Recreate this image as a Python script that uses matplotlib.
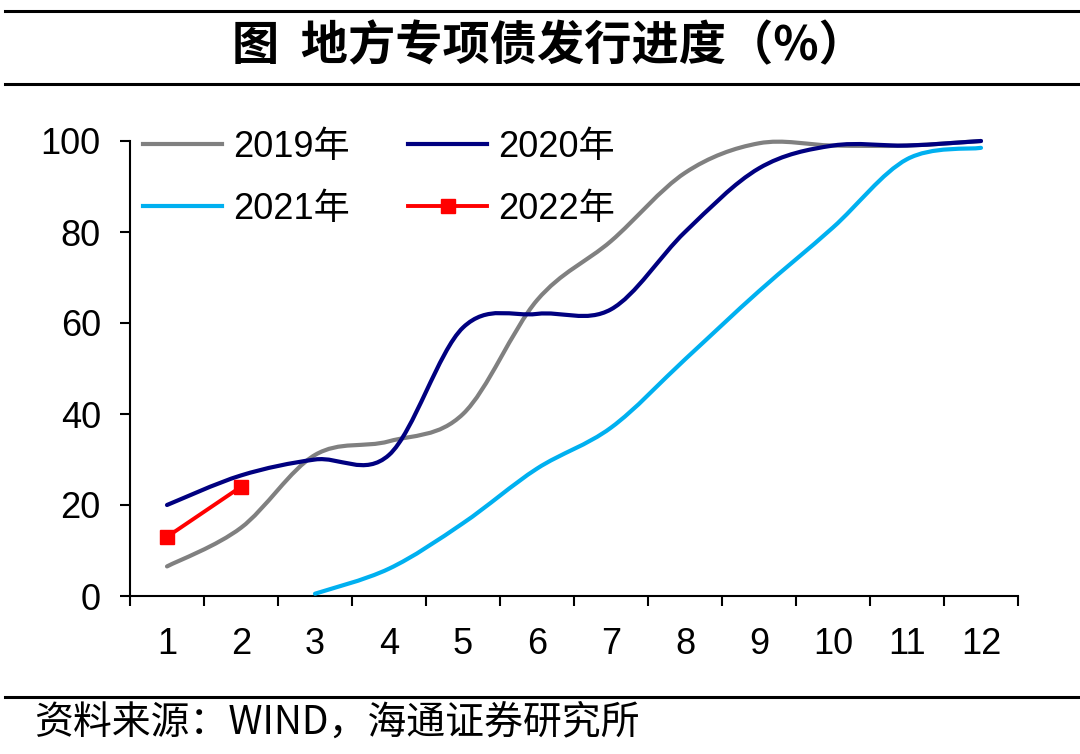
import matplotlib.pyplot as plt
import numpy as np
from matplotlib.path import Path
from matplotlib.patches import PathPatch
from matplotlib.lines import Line2D

plt.rcParams['font.family'] = ['Liberation Sans', 'Noto Sans CJK SC', 'DejaVu Sans']

# Data (cumulative issuance progress, %)
months = list(range(1, 13))
y2019 = [6.5, 15, 31, 34, 40, 65, 78, 93, 99.5, 99, 99, 100]
y2020 = [20, 26.5, 30, 31, 59, 62, 63, 80, 94, 99, 99, 100]
months_2021 = list(range(3, 13))
y2021 = [0.5, 6, 16, 28, 37, 52, 67, 81, 96, 98.5]
months_2022 = [1, 2]
y2022 = [13, 24]

series = [
    ('2019年', months, y2019, '#808080'),
    ('2020年', months, y2020, '#000080'),
    ('2021年', months_2021, y2021, '#00B0F0'),
]


def smooth_path(xs, ys):
    # Excel-style smoothed line: cubic Bezier through the data points
    pts = np.column_stack([xs, ys]).astype(float)
    verts = [pts[0]]
    codes = [Path.MOVETO]
    n = len(pts)
    for i in range(n - 1):
        p0 = pts[i - 1] if i > 0 else pts[i]
        p1 = pts[i]
        p2 = pts[i + 1]
        p3 = pts[i + 2] if i + 2 < n else pts[i + 1]
        c1 = p1 + (p2 - p0) / 6
        c2 = p2 - (p3 - p1) / 6
        verts += [c1, c2, p2]
        codes += [Path.CURVE4] * 3
    return Path(verts, codes)


fig = plt.figure(figsize=(10.8, 7.54), dpi=100)
ax = fig.add_axes([130 / 1080, 158 / 754, 888 / 1080, 455 / 754])

handles = []
for name, xs, ys, color in series:
    patch = PathPatch(smooth_path(xs, ys), facecolor='none', edgecolor=color,
                      lw=3, clip_on=False, capstyle='round', zorder=3)
    ax.add_patch(patch)
    handles.append(Line2D([], [], color=color, lw=3, label=name))

l22, = ax.plot(months_2022, y2022, color='#FF0000', lw=2.8, marker='s',
               markersize=10, clip_on=False, zorder=4, label='2022年')
handles.append(l22)

ax.set_xlim(0.5, 12.5)
ax.set_ylim(0, 100)
ax.set_yticks(range(0, 101, 20))
ax.set_xticks(months)
ax.set_xticks(np.arange(0.5, 13, 1), minor=True)
ax.tick_params(axis='x', which='major', length=0, pad=22, labelsize=26)
ax.tick_params(axis='x', which='minor', length=7, width=1.5, direction='out')
ax.tick_params(axis='y', length=7, width=1.5, direction='out', pad=14, labelsize=26)
for s in ['top', 'right']:
    ax.spines[s].set_visible(False)
for s in ['left', 'bottom']:
    ax.spines[s].set_linewidth(1.5)

# legend order: 2019, 2020 on first row; 2021, 2022 on second row
order = [handles[0], handles[2], handles[1], handles[3]]
ax.legend(handles=order, ncol=2, frameon=False, fontsize=26,
          loc='upper left', bbox_to_anchor=(143 / 1080, 1 - 130 / 754),
          bbox_transform=fig.transFigure, borderpad=0, borderaxespad=0,
          handlelength=2.2, handletextpad=0.3, columnspacing=1.6,
          labelspacing=0.75)

# Title and frame lines
fig.text(549 / 1080, 1 - 46 / 754, '图  地方专项债发行进度（%）', ha='center', va='center',
         fontsize=34, fontweight='bold', family=['Noto Sans CJK SC', 'DejaVu Sans'])
for yy in [11, 84, 697]:
    fig.add_artist(Line2D([5 / 1080, 1], [1 - yy / 754] * 2, color='black',
                          lw=2.2, transform=fig.transFigure))
fig.text(34 / 1080, 1 - 723 / 754, '资料来源：WIND，海通证券研究所', ha='left',
         va='center', fontsize=28, family=['Noto Sans CJK SC', 'DejaVu Sans'])

fig.savefig('out.png', dpi=100)
